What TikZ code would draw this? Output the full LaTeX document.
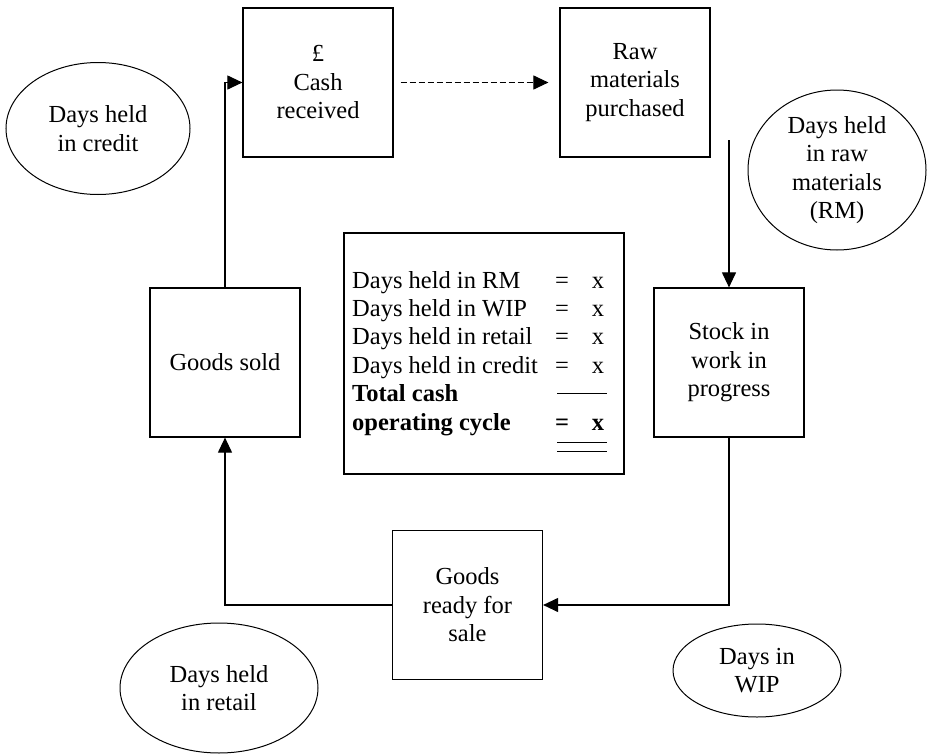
\documentclass[tikz,border=0pt]{standalone}
\usepackage{fontspec}
\setmainfont{Liberation Serif}
\usetikzlibrary{arrows.meta,shapes.geometric}
\begin{document}
\begin{tikzpicture}[x=1pt,y=-1pt,
  font=\fontsize{24.5}{28.5}\selectfont,
  stage/.style={draw,line width=1.2pt,minimum width=150pt,minimum height=149pt,
    align=center,inner sep=0pt},
  period/.style={draw,ellipse,line width=1pt,align=center,inner sep=0pt},
  flow/.style={line width=1.1pt,-{Triangle[length=15pt,width=14pt]}},
  entry/.style={anchor=base west,inner sep=0pt},
  sign/.style={anchor=base,inner sep=0pt},
]
\useasboundingbox (0,0) rectangle (927,755);

% stages of the cycle
\node[stage] (cash)  at (318,82.5)  {£\\Cash\\received};
\node[stage] (raw)   at (635,82.5)  {Raw\\materials\\purchased};
\node[stage] (stock) at (729,362.5) {Stock in\\work in\\progress};
\node[stage] (ready) at (467.5,605) {Goods\\ready for\\sale};
\node[stage] (sold)  at (225,362.5) {Goods sold};

% holding periods
\node[period,minimum width=184pt,minimum height=132pt] (credit) at (98,128.5)  {Days held\\in credit};
\node[period,minimum width=178pt,minimum height=160pt] (rmdays) at (837,170)   {Days held\\in raw\\materials\\(RM)};
\node[period,minimum width=168pt,minimum height=93pt]  (wip)    at (757,670.5) {Days in\\WIP};
\node[period,minimum width=198pt,minimum height=130pt] (retail) at (219,688)   {Days held\\in retail};

% summary of the operating cycle
\node[draw,line width=1.2pt,minimum width=280pt,minimum height=241pt,inner sep=0pt]
  (summary) at (484,353.5) {};
\node[entry] (r1) at (352,288)   {Days held in RM};
\node[entry] (r2) at (352,316.4) {Days held in WIP};
\node[entry] (r3) at (352,344.8) {Days held in retail};
\node[entry] (r4) at (352,373.2) {Days held in credit};
\node[entry] (r5) at (352,401.6) {\bfseries Total cash};
\node[entry] (r6) at (352,430)   {\bfseries operating cycle};
\foreach \y/\n in {288/1,316.4/2,344.8/3,373.2/4}{
  \node[sign] (eq\n) at (562,\y) {=};
  \node[sign] (val\n) at (598,\y) {x};
}
\node[sign] (eq6)  at (562,430) {\bfseries =};
\node[sign] (val6) at (598,430) {\bfseries x};
\draw[line width=0.9pt] (557,393) -- (607,393);
\draw[line width=0.9pt] (557,442) -- (607,442);
\draw[line width=0.9pt] (557,451) -- (607,451);

% flows between the stages
\draw[flow] (sold.north) -- (sold.north |- cash.west) -- (cash.west);
\draw[flow,dash pattern=on 6pt off 3pt,shorten <=7pt,shorten >=11pt] (cash.east) -- (raw.west);
\coordinate (drop) at (729,140);
\draw[flow] (drop) -- (stock.north);
\draw[flow] (stock.south) -- (stock.south |- ready.east) -- (ready.east);
\draw[flow] (ready.west) -- (ready.west -| sold.south) -- (sold.south);
\end{tikzpicture}
\end{document}
